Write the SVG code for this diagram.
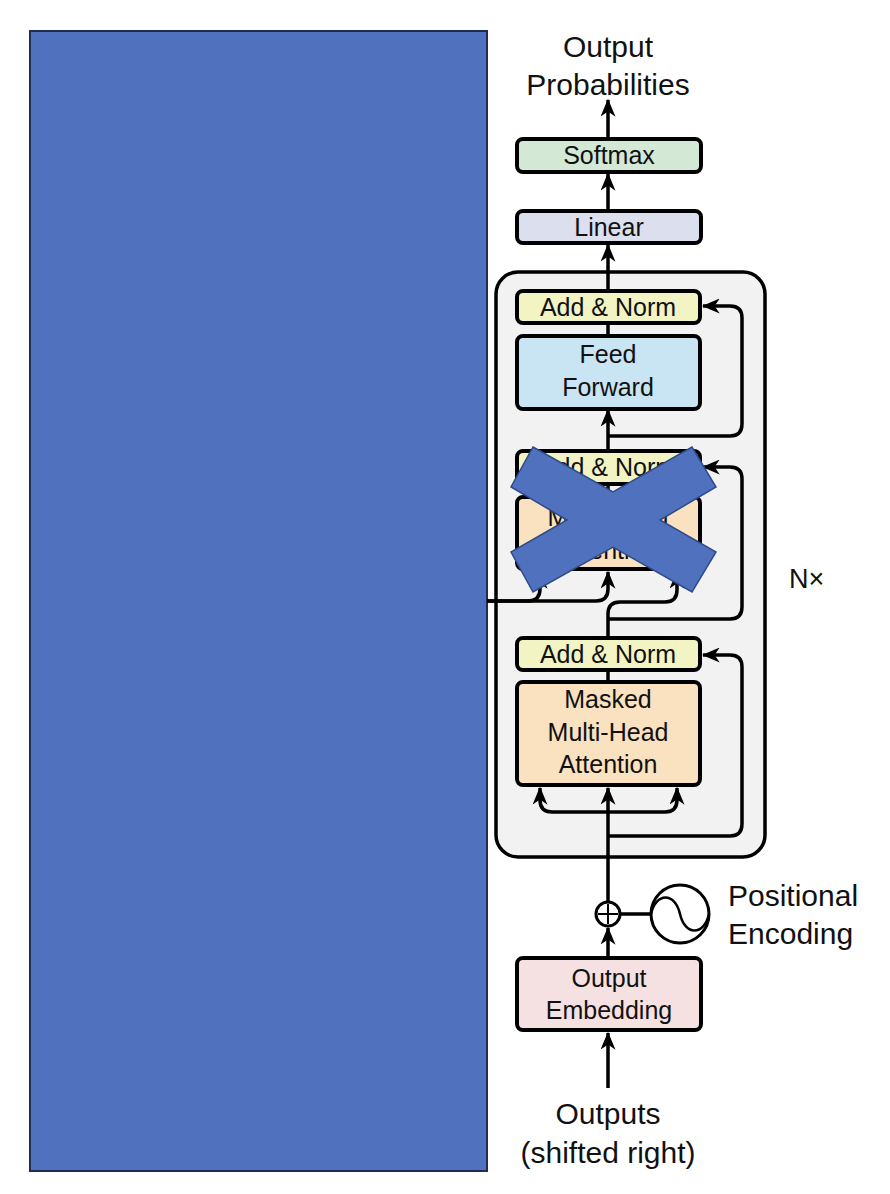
<svg xmlns="http://www.w3.org/2000/svg" width="890" height="1194" viewBox="0 0 890 1194">
<defs>
<marker id="ah" viewBox="0 0 14 12" refX="13" refY="6" markerWidth="18" markerHeight="15" markerUnits="userSpaceOnUse" orient="auto" preserveAspectRatio="none">
<path d="M0,0 L14,6 L0,12 L4,6 z" fill="#000"/>
</marker>
<style>
.box{stroke:#000;stroke-width:4}
.t{font-family:"Liberation Sans",Arial,sans-serif;font-size:25px;fill:#111;text-anchor:middle}
.h{font-family:"Liberation Sans",Arial,sans-serif;font-size:30px;fill:#111}
.c{fill:none;stroke:#000;stroke-width:3.5}
.a{marker-end:url(#ah)}
</style>
</defs>
<rect width="890" height="1194" fill="#fff"/>
<g id="encoder-cover"><rect x="30" y="31" width="457" height="1140" fill="#5071be" stroke="#1f2d52" stroke-width="2"/></g>
<g id="decoder-block"><rect x="496" y="272" width="269" height="585" rx="22" fill="#f2f2f2" stroke="#000" stroke-width="3.5"/></g>
<g id="connectors">
<path class="c a" d="M608,138 L608,100"/>
<path class="c a" d="M608,210 L608,174"/>
<path class="c a" d="M608,290 L608,245"/>
<path class="c" d="M608,336 L608,323"/>
<path class="c a" d="M608,450 L608,410"/>
<path class="c a" d="M608,436 L730,436 Q742,436 742,424 L742,318 Q742,306 730,306 L703,306"/>
<path class="c" d="M608,497 L608,484"/>
<path class="c a" d="M608,619 L730,619 Q742,619 742,607 L742,479 Q742,467 730,467 L703,467"/>
<path class="c a" d="M608,637 L608,614 Q608,602 620,602 L665,602 Q677,602 677,590 L677,572"/>
<path class="c a" d="M487,601 L596,601 Q608,601 608,589 L608,572"/>
<path class="c a" d="M487,601 L528,601 Q540,601 540,589 L540,572"/>
<path class="c" d="M608,682 L608,670"/>
<path class="c a" d="M608,836 L730,836 Q742,836 742,824 L742,667 Q742,655 730,655 L703,655"/>
<path class="c a" d="M608,901 L608,788"/>
<path class="c a" d="M608,812 L552,812 Q540,812 540,800 L540,788"/>
<path class="c a" d="M608,812 L665,812 Q677,812 677,800 L677,788"/>
<path class="c a" d="M608,957 L608,928"/>
<path class="c a" d="M608,1088 L608,1033"/>
<path class="c" d="M621,914 L651,914"/>
</g>
<g id="output-probabilities"><text class="h" x="608" y="57" text-anchor="middle">Output</text><text class="h" x="608" y="95" text-anchor="middle">Probabilities</text></g>
<g id="softmax"><rect class="box" x="517" y="139" width="184" height="33" rx="6" fill="#d3e9d6"/><text class="t" x="609" y="164">Softmax</text></g>
<g id="linear"><rect class="box" x="517" y="211" width="184" height="32" rx="6" fill="#dcdfee"/><text class="t" x="609" y="236">Linear</text></g>
<g id="add-norm-3"><rect class="box" x="517" y="291" width="183" height="32" rx="6" fill="#f2f4c4"/><text class="t" x="608" y="316">Add &amp; Norm</text></g>
<g id="feed-forward"><rect class="box" x="517" y="336" width="183" height="73" rx="6" fill="#c9e5f4"/><text class="t" x="608" y="363">Feed</text><text class="t" x="608" y="396">Forward</text></g>
<g id="add-norm-2"><rect class="box" x="517" y="451" width="183" height="33" rx="6" fill="#f2f4c4"/><text class="t" x="608" y="476">Add &amp; Norm</text></g>
<g id="multi-head-attention"><rect class="box" x="517" y="497" width="183" height="72" rx="6" fill="#fae1bf"/><text class="t" x="608" y="526">Multi-Head</text><text class="t" x="608" y="559">Attention</text></g>
<g id="add-norm-1"><rect class="box" x="517" y="638" width="183" height="32" rx="6" fill="#f2f4c4"/><text class="t" x="608" y="663">Add &amp; Norm</text></g>
<g id="masked-mha"><rect class="box" x="517" y="682" width="183" height="103" rx="6" fill="#fae1bf"/><text class="t" x="608" y="708">Masked</text><text class="t" x="608" y="741">Multi-Head</text><text class="t" x="608" y="773">Attention</text></g>
<g id="plus"><circle cx="608" cy="914" r="12" fill="#fff" stroke="#000" stroke-width="3"/><path d="M608,904 L608,924 M598,914 L618,914" stroke="#000" stroke-width="2"/></g>
<g id="positional-encoding"><circle cx="680" cy="914" r="29" fill="#fff" stroke="#000" stroke-width="3"/><path d="M651,914 C656,892 675,892 680,914 C685,936 704,936 709,914" fill="none" stroke="#000" stroke-width="2.5"/><text class="h" x="728" y="906">Positional</text><text class="h" x="728" y="944">Encoding</text></g>
<g id="output-embedding"><rect class="box" x="517" y="958" width="184" height="72" rx="6" fill="#f5e1e1"/><text class="t" x="609" y="987">Output</text><text class="t" x="609" y="1019">Embedding</text></g>
<g id="outputs-label"><text class="h" x="608" y="1124" text-anchor="middle">Outputs</text><text class="h" x="608" y="1163" text-anchor="middle">(shifted right)</text></g>
<g id="nx-label"><text class="h" x="789" y="588" style="font-size:27px">N×</text></g>
<g id="cross"><polygon points="533,447 613,492 692,447 716,487 660,520 716,552 692,592 613,547 533,592 511,552 567,520 511,487" fill="#4f71be" stroke="#2f4b8a" stroke-width="1.5"/></g>
</svg>
